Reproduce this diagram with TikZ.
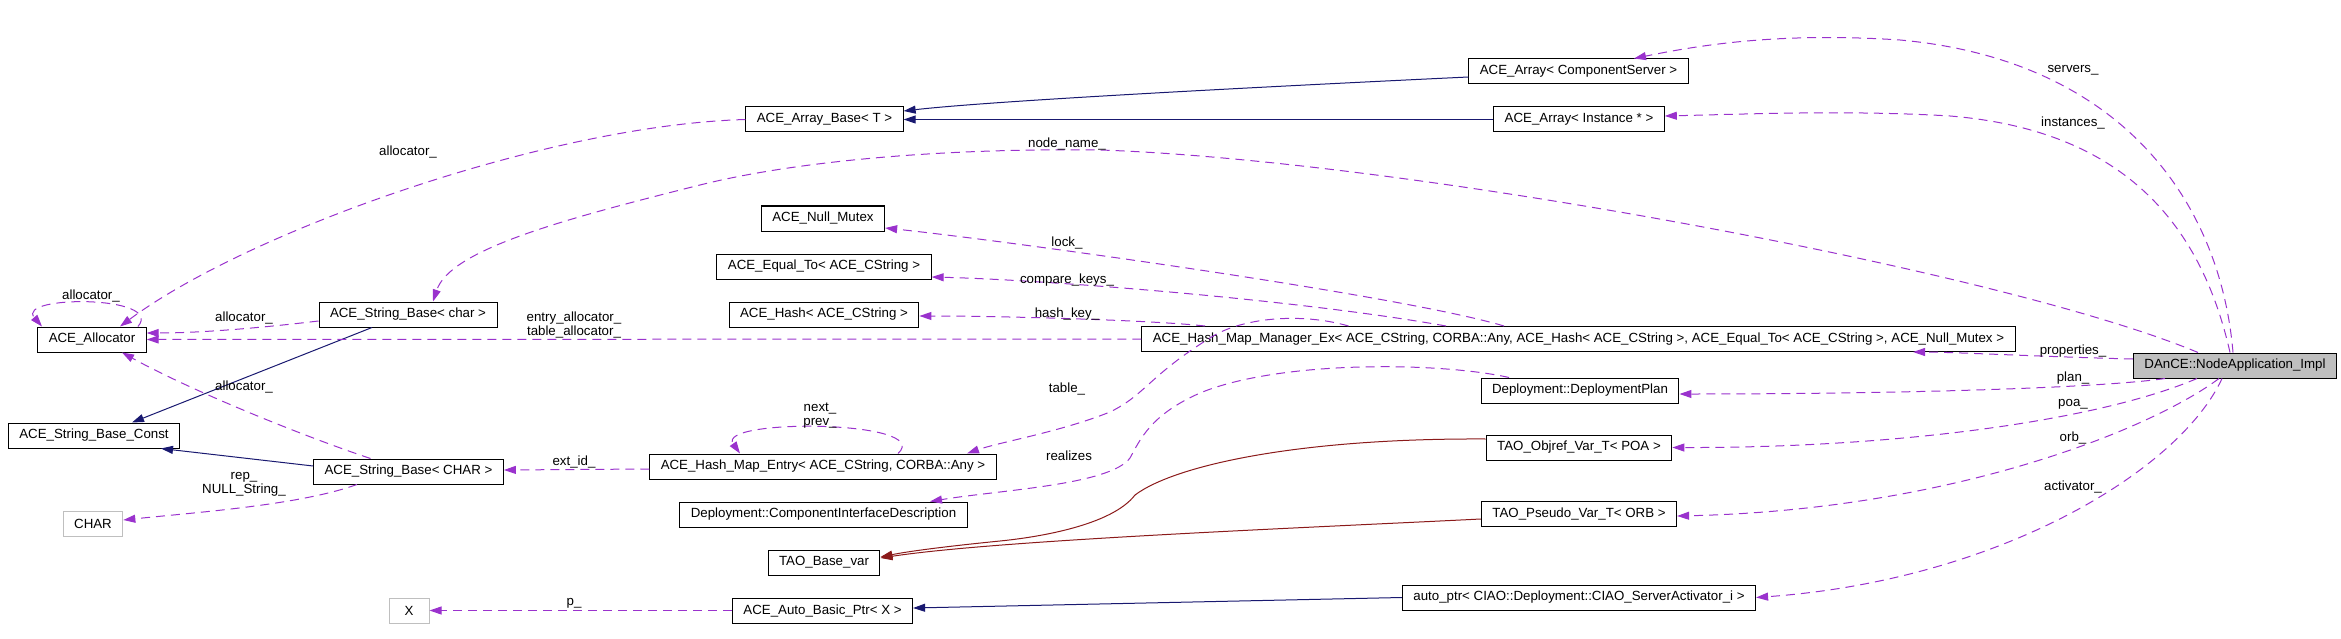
\documentclass[tikz,border=0pt]{standalone}
\usepackage{fontspec}
\newfontfamily\dxsans{Liberation Sans}
\usetikzlibrary{arrows.meta}

\definecolor{inhblue}{HTML}{191970}
\definecolor{privred}{HTML}{8B1A1A}
\definecolor{usepurple}{HTML}{9A32CD}
\definecolor{extgray}{HTML}{BFBFBF}

\tikzset{
  cls/.style={draw=black, line width=1pt, minimum height=25pt, minimum width=40pt,
    inner xsep=11pt, inner ysep=0pt, font={\dxsans\fontsize{13.3}{14.5}\selectfont}},
  extcls/.style={cls, draw=extgray},
  selfcls/.style={cls, fill=extgray},
  inherit/.style={draw=inhblue, line width=1pt, -{Triangle[length=12pt,width=8pt]}},
  privinherit/.style={inherit, draw=privred},
  uses/.style={draw=usepurple, line width=1pt, dash pattern=on 9pt off 6pt,
    -{Triangle[length=12pt,width=8pt]}},
  lbl/.style={inner sep=0pt, align=center, font={\dxsans\fontsize{13.3}{14.5}\selectfont}}
}

\begin{document}
\begin{tikzpicture}[x=1pt,y=-1pt]
  \useasboundingbox (0,0) rectangle (2341,639);

  % classes, column by column
  \node[cls] (allocator) at (92,339.5) {ACE\_Allocator};
  \node[cls] (strconst) at (94,435.5) {ACE\_String\_Base\_Const};
  \node[extcls] (charcls) at (93,523.5) {CHAR};
  \node[cls] (strchar) at (408,314.5) {ACE\_String\_Base< char >};
  \node[cls] (strCHAR) at (408.5,471.5) {ACE\_String\_Base< CHAR >};
  \node[extcls] (xcls) at (409,610.5) {X};
  \node[cls] (arrbase) at (824.5,119.5) {ACE\_Array\_Base< T >};
  \node[cls] (nullmutex) at (823,218.5) {ACE\_Null\_Mutex};
  \node[cls] (equalto) at (824,266.5) {ACE\_Equal\_To< ACE\_CString >};
  \node[cls] (acehash) at (824,314.5) {ACE\_Hash< ACE\_CString >};
  \node[cls] (hashentry) at (823,466.5) {ACE\_Hash\_Map\_Entry< ACE\_CString, CORBA::Any >};
  \node[cls] (compdesc) at (823.5,514.5) {Deployment::ComponentInterfaceDescription};
  \node[cls] (basevar) at (824,562.5) {TAO\_Base\_var};
  \node[cls] (autobasic) at (822.5,610.5) {ACE\_Auto\_Basic\_Ptr< X >};
  \node[cls] (arrcs) at (1578.5,71.5) {ACE\_Array< ComponentServer >};
  \node[cls] (arrinst) at (1579,119.5) {ACE\_Array< Instance * >};
  \node[cls] (hashmgr) at (1578.5,339) {ACE\_Hash\_Map\_Manager\_Ex< ACE\_CString, CORBA::Any, ACE\_Hash< ACE\_CString >, ACE\_Equal\_To< ACE\_CString >, ACE\_Null\_Mutex >};
  \node[cls] (plan) at (1580,390.5) {Deployment::DeploymentPlan};
  \node[cls] (objref) at (1579,447.5) {TAO\_Objref\_Var\_T< POA >};
  \node[cls] (pseudo) at (1579,513.5) {TAO\_Pseudo\_Var\_T< ORB >};
  \node[cls] (autoptr) at (1579,597.5) {auto\_ptr< CIAO::Deployment::CIAO\_ServerActivator\_i >};
  \node[selfcls] (dance) at (2235,365.5) {DAnCE::NodeApplication\_Impl};

  % inheritance
  \draw[inherit] ([yshift=-5.5pt]arrcs.west) .. controls (1300,85) and (1000,100) .. ([yshift=8.5pt]arrbase.east);
  \draw[inherit] (arrinst.west) -- (arrbase.east);
  \draw[inherit] ([xshift=-36pt]strchar.south) -- ([xshift=38pt]strconst.north);
  \draw[inherit] ([yshift=5.5pt]strCHAR.west) -- ([xshift=67pt]strconst.south);
  \draw[inherit] (autoptr.west) -- ([yshift=2.5pt]autobasic.east);
  \draw[privinherit] ([yshift=8.5pt]objref.west) .. controls (1300,438) and (1175,465) .. (1135,495)
      .. controls (1112,525) and (1040,537) .. (1000,541) .. controls (950,546) and (910,551) .. ([yshift=5.5pt]basevar.east);
  \draw[privinherit] ([yshift=-5.5pt]pseudo.west) .. controls (1300,528) and (1000,540) .. ([yshift=4.5pt]basevar.east);

  % members of the helper classes
  \draw[uses] (arrbase.west) .. controls (550,125) and (250,230) .. ([xshift=28pt]allocator.north);
  \draw[uses] ([xshift=46pt]allocator.north) .. controls (165,295) and (15,295) .. ([xshift=-50pt]allocator.north);
  \draw[uses] ([yshift=-6.5pt]strchar.west) .. controls (260,328) and (200,333) .. ([yshift=6.5pt]allocator.east);
  \draw[uses] ([xshift=-38pt]strCHAR.north) .. controls (300,435) and (190,390) .. ([xshift=30pt]allocator.south);
  \draw[uses] ([xshift=-51.5pt]strCHAR.south) .. controls (300,505) and (200,512) .. ([yshift=3.5pt]charcls.east);
  \draw[uses] (hashmgr.west) -- (allocator.east);
  \draw[uses] ([xshift=-74.5pt]hashmgr.north) .. controls (1400,295) and (1000,240) .. ([yshift=-9.5pt]nullmutex.east);
  \draw[uses] ([xshift=-132.5pt]hashmgr.north) .. controls (1300,300) and (1050,280) .. ([yshift=-10.5pt]equalto.east);
  \draw[uses] ([xshift=-373.5pt]hashmgr.north) .. controls (1150,320) and (1000,316) .. ([yshift=-1.5pt]acehash.east);
  \draw[uses] ([xshift=-230pt]hashmgr.north) .. controls (1300,312) and (1240,318) .. (1210,338)
      .. controls (1150,375) and (1145,395) .. (1110,412) .. controls (1060,432) and (1000,442) .. ([xshift=144pt]hashentry.north);
  \draw[uses] ([xshift=75pt]hashentry.north) .. controls (935,420) and (715,418) .. ([xshift=-83pt]hashentry.north);
  \draw[uses] ([yshift=-2.5pt]hashentry.west) -- ([yshift=1.5pt]strCHAR.east);
  \draw[uses] ([xshift=-71pt]plan.north) .. controls (1440,362) and (1280,360) .. (1200,393)
      .. controls (1150,415) and (1140,440) .. (1130,458) .. controls (1110,485) and (1000,490) .. ([xshift=106.5pt]compdesc.north);
  \draw[uses] (autobasic.west) -- (xcls.east);

  % members of DAnCE::NodeApplication_Impl
  \draw[uses] ([xshift=-37pt]dance.north) .. controls (2000,270) and (1400,160) .. (1100,150)
      .. controls (950,148) and (800,160) .. (700,185) .. controls (560,220) and (450,250) .. ([xshift=25pt]strchar.north);
  \draw[uses] ([xshift=-2pt]dance.north) .. controls (2220,200) and (2120,60) .. (1900,40)
      .. controls (1780,32) and (1700,45) .. ([xshift=55.5pt]arrcs.north);
  \draw[uses] ([xshift=-5pt]dance.north) .. controls (2200,220) and (2120,130) .. (1950,116)
      .. controls (1850,110) and (1750,114) .. ([yshift=3.5pt]arrinst.east);
  \draw[uses] ([yshift=6.5pt]dance.west) .. controls (2050,357) and (1950,352) .. ([xshift=334.5pt]hashmgr.south);
  \draw[uses] ([xshift=-70pt]dance.south) .. controls (2100,388) and (1900,394) .. ([yshift=-3.5pt]plan.east);
  \draw[uses] ([xshift=-38pt]dance.south) .. controls (2100,420) and (1900,448) .. (objref.east);
  \draw[uses] ([xshift=-16pt]dance.south) .. controls (2150,430) and (1950,510) .. ([yshift=-2.5pt]pseudo.east);
  \draw[uses] ([xshift=-13pt]dance.south) .. controls (2180,470) and (2000,580) .. (autoptr.east);

  % member names
  \node[lbl] (lalloca) at (408,152) {allocator\_};
  \node[lbl] (lallocb) at (91,296) {allocator\_};
  \node[lbl] (lallocc) at (244,318) {allocator\_};
  \node[lbl] (lallocd) at (244,387) {allocator\_};
  \node[lbl] (lrep) at (244,484.5) {rep\_\\NULL\_String\_};
  \node[lbl] (ltblalloc) at (574,325) {entry\_allocator\_\\table\_allocator\_};
  \node[lbl] (lextid) at (574,462) {ext\_id\_};
  \node[lbl] (lp) at (574,603) {p\_};
  \node[lbl] (lnodename) at (1067,144) {node\_name\_};
  \node[lbl] (llock) at (1067,243) {lock\_};
  \node[lbl] (lcompare) at (1067,280) {compare\_keys\_};
  \node[lbl] (lhashkey) at (1067,314) {hash\_key\_};
  \node[lbl] (ltable) at (1067,389) {table\_};
  \node[lbl] (lnext) at (820,415.5) {next\_\\prev\_};
  \node[lbl] (lrealizes) at (1069,456) {realizes};
  \node[lbl] (lservers) at (2073,70) {servers\_};
  \node[lbl] (linstances) at (2073,123) {instances\_};
  \node[lbl] (lprops) at (2073,351) {properties\_};
  \node[lbl] (lplan) at (2073,378) {plan\_};
  \node[lbl] (lpoa) at (2073,404) {poa\_};
  \node[lbl] (lorb) at (2073,438) {orb\_};
  \node[lbl] (lactivator) at (2073,487) {activator\_};
\end{tikzpicture}
\end{document}
